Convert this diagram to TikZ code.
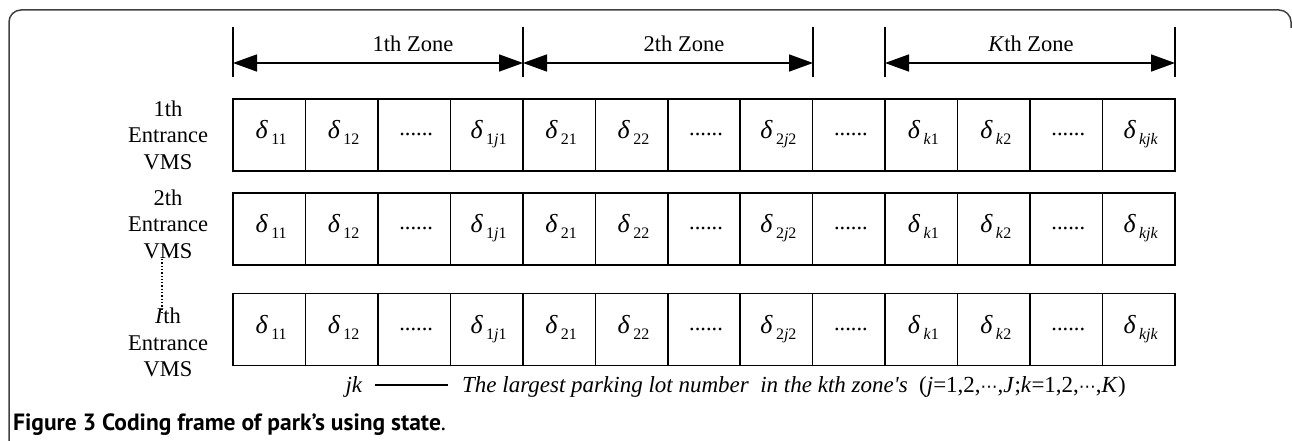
\documentclass[tikz,border=0pt]{standalone}
\usepackage{fontspec}
\setmainfont{Liberation Serif}
\newfontfamily\capfont{PT Sans}
\newfontfamily\dvs{DejaVu Sans}
\usetikzlibrary{arrows.meta,calc}
\newcommand\dl[1]{{\fontsize{26}{26}\selectfont\itshape δ}\kern3.5pt\raisebox{-6pt}{\fontsize{16}{16}\selectfont #1}}
\newcommand\ddd{\raisebox{3pt}{......}}
\newcommand\cdt{{\dvs\fontsize{17}{17}\selectfont ⋯}}
\tikzset{
  cell/.style={draw, line width=1.5pt, minimum width=72.46pt, minimum height=72pt, inner sep=0pt},
  celltxt/.style={anchor=base, inner sep=0pt},
  tick/.style={line width=1.5pt},
  dimarrow/.style={line width=1.5pt, {Triangle[length=24pt,width=17pt]}-{Triangle[length=24pt,width=17pt]}},
  zonelbl/.style={anchor=base, inner sep=0pt},
  entlbl/.style={align=center, inner sep=0pt, font=\fontsize{22.5}{26.5}\selectfont},
  framel/.style={line width=1.5pt, draw=black!75, rounded corners=12pt}
}
\begin{document}
\begin{tikzpicture}[x=1pt,y=-1pt, font=\fontsize{22.5}{26.5}\selectfont]
\useasboundingbox (0,0) rectangle (1292,441);
% outer frame
\draw[framel] (9,441) -- (9,10) -- (1291,10) -- (1291,28);
% zone ticks
\foreach \n/\x in {a/233,b/523,c/813,d/885,e/1175}{
  \coordinate (top\n) at (\x,27);
  \coordinate (bot\n) at (\x,77);
  \coordinate (mid\n) at (\x,63);
  \draw[tick] (top\n) -- (bot\n);
}
\draw[dimarrow] (mida) -- (midb);
\draw[dimarrow] (midb) -- (midc);
\draw[dimarrow] (midd) -- (mide);
\node[zonelbl] (z1) at (413,52) {1th Zone};
\node[zonelbl] (z2) at (684,52) {2th Zone};
\node[zonelbl] (z3) at (1031,52) {\textit{K}th Zone};
% rows
\foreach \r/\cy in {1/135,2/229,3/329.5}{
  \foreach \t [count=\i from 0] in {\dl{11},\dl{12},\ddd,\dl{1\textit{j}1},\dl{21},\dl{22},\ddd,\dl{2\textit{j}2},\ddd,\dl{\textit{k}1},\dl{\textit{k}2},\ddd,\dl{\textit{kjk}}}{
    \node[cell] (c\r-\i) at ({233+72.46*(\i+0.5)},\cy) {};
    \node[celltxt] (t\r-\i) at ($(c\r-\i.center)+(2,3.5)$) {\t};
  }
}
% entrance labels
\node[entlbl] (e1) at (168,135) {1th\\Entrance\\VMS};
\node[entlbl] (e2) at (168,224) {2th\\Entrance\\VMS};
\node[entlbl] (e3) at (168,342.5) {\textit{I}th\\Entrance\\VMS};
\coordinate (d1) at (162,259);
\coordinate (d2) at (162,312);
\draw[line width=1.3pt, dotted] (d1) -- (d2);
% legend
\node[anchor=base, inner sep=0pt, font=\fontsize{23}{23}\selectfont] (jk) at (354,392) {\textit{jk}};
\coordinate (l1) at (375,385);
\coordinate (l2) at (448,385);
\draw[line width=1.2pt] (l1) -- (l2);
\node[anchor=base west, inner sep=0pt, font=\fontsize{23}{23}\selectfont] (leg) at (462,392) {\textit{The largest parking lot number\ \ in the kth zone\textquotesingle s}\ \ (\textit{j}=1,2,\cdt,\textit{J};\textit{k}=1,2,\cdt,\textit{K})};
% caption
\node[anchor=base west, inner sep=0pt] (cap) at (13,430) {\capfont\fontsize{23.5}{23.5}\selectfont\bfseries Figure 3 Coding frame of park’s using state\mdseries .};
\end{tikzpicture}
\end{document}
